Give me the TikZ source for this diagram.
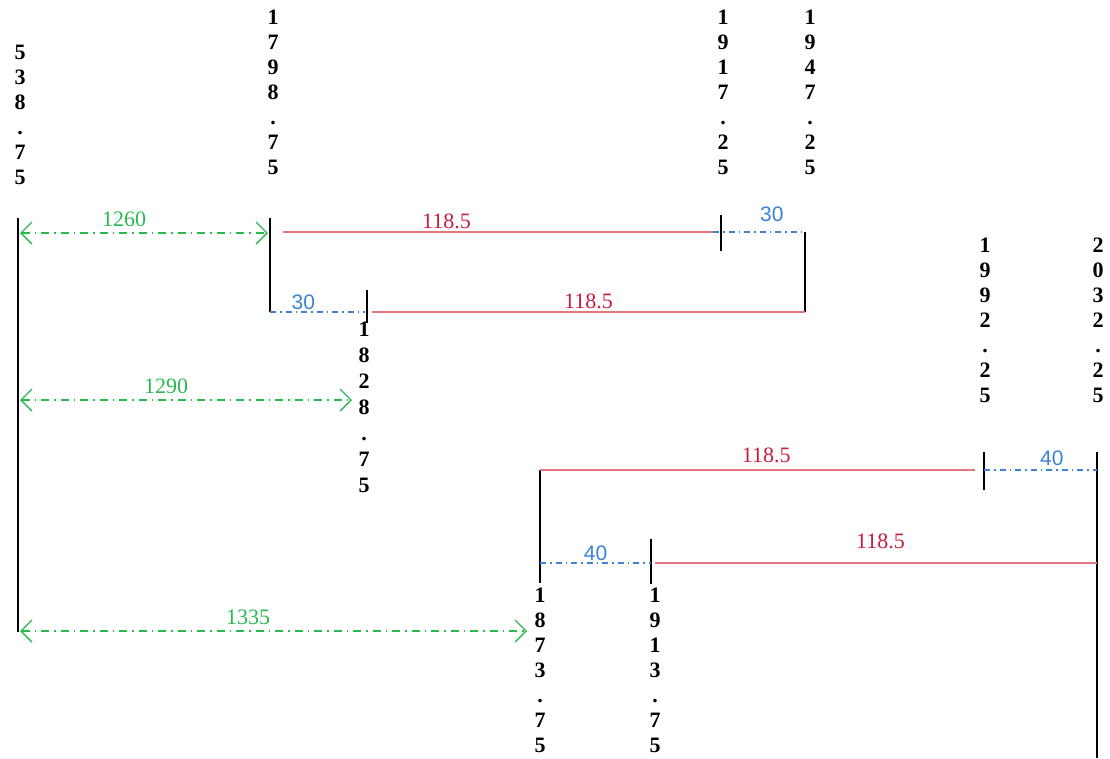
\documentclass[tikz,border=0pt]{standalone}
\usepackage{fontspec}
\setmainfont{Liberation Serif}
\setsansfont{Liberation Sans}
\usetikzlibrary{arrows.meta}

\definecolor{spanred}{RGB}{226,120,125}
\definecolor{spantext}{RGB}{200,30,60}
\definecolor{gapblue}{RGB}{60,130,215}
\definecolor{dimgreen}{RGB}{40,185,80}

\begin{document}
\begin{tikzpicture}[x=1pt, y=-1pt,
   station/.style={font=\bfseries\fontsize{22}{25}\selectfont, align=center, inner sep=0pt, anchor=north},
   wall/.style={draw=black, line width=1.8pt},
   span/.style={draw=spanred, line width=2.6pt},
   gap/.style={draw=gapblue, line width=1.4pt, dash pattern=on 6pt off 4pt on 1.5pt off 4pt},
   dim/.style={draw=dimgreen, line width=1.6pt, dash pattern=on 8pt off 5pt on 1.5pt off 5pt,
      {Straight Barb[length=11pt, width=22pt, line width=1.4pt]}-{Straight Barb[length=11pt, width=22pt, line width=1.4pt]}},
   spanlabel/.style={text=spantext, font=\fontsize{22}{24}\selectfont, anchor=south, inner sep=2pt},
   gaplabel/.style={text=gapblue, font=\sffamily\fontsize{21}{24}\selectfont, anchor=south, inner sep=2pt},
   dimlabel/.style={text=dimgreen, font=\fontsize{22}{24}\selectfont, anchor=south, inner sep=1pt, yshift=4pt}
]
\useasboundingbox (0,0) rectangle (1110,758);

% Stations
\node [station] (s538) at (20,45) {5\\3\\8\\.\\7\\5};
\node [station] (s1798) at (273,10) {1\\7\\9\\8\\.\\7\\5};
\node [station] (s1917) at (723,10) {1\\9\\1\\7\\.\\2\\5};
\node [station] (s1947) at (810,10) {1\\9\\4\\7\\.\\2\\5};
\node [station, font=\bfseries\fontsize{22}{26}\selectfont] (s1828) at (364,322) {1\\8\\2\\8\\.\\7\\5};
\node [station] (s1992) at (985,238) {1\\9\\9\\2\\.\\2\\5};
\node [station] (s2032) at (1098,238) {2\\0\\3\\2\\.\\2\\5};
\node [station] (s1873) at (540,588) {1\\8\\7\\3\\.\\7\\5};
\node [station] (s1913) at (655,588) {1\\9\\1\\3\\.\\7\\5};

% Wall points
\coordinate (a1) at (18,218);   \coordinate (a2) at (18,632);
\coordinate (b1) at (270,218);  \coordinate (b2) at (270,312);
\coordinate (c1) at (721,215);  \coordinate (c2) at (721,251);
\coordinate (d1) at (805,232);  \coordinate (d2) at (805,312);
\coordinate (e1) at (367,290);  \coordinate (e2) at (367,323);
\coordinate (f1) at (540,470);  \coordinate (f2) at (540,583);
\coordinate (g1) at (651,539);  \coordinate (g2) at (651,584);
\coordinate (h1) at (984,452);  \coordinate (h2) at (984,490);
\coordinate (k1) at (1097,452); \coordinate (k2) at (1097,758);

% Walls
\draw [wall] (a1) -- (a2);
\draw [wall] (b1) -- (b2);
\draw [wall] (c1) -- (c2);
\draw [wall] (d1) -- (d2);
\draw [wall] (e1) -- (e2);
\draw [wall] (f1) -- (f2);
\draw [wall] (g1) -- (g2);
\draw [wall] (h1) -- (h2);
\draw [wall] (k1) -- (k2);

% Spans
\draw [span] (283,232) -- node[spanlabel, pos=0.38] {118.5} (713,232);
\draw [span] (372,312) -- node[spanlabel] {118.5} (d2);
\draw [span] (f1) -- node[spanlabel, pos=0.52, yshift=4pt] {118.5} (975,470);
\draw [span] (655,563) -- node[spanlabel, pos=0.51, yshift=11pt] {118.5} (1097,563);

% Gaps
\draw [gap] (713,232) -- node[gaplabel, pos=0.64, yshift=8pt] {30} (d1);
\draw [gap] (b2) -- node[gaplabel, pos=0.35] {30} (365,312);
\draw [gap] (984,470) -- node[gaplabel, pos=0.6, yshift=2pt] {40} (1097,470);
\draw [gap] (540,563) -- node[gaplabel] {40} (651,563);

% Dimensions
\draw [dim] (20,233) -- node[dimlabel, pos=0.42] {1260} (268,233);
\draw [dim] (20,400) -- node[dimlabel, pos=0.44] {1290} (352,400);
\draw [dim] (20,631) -- node[dimlabel, pos=0.45] {1335} (527,631);

\end{tikzpicture}
\end{document}
